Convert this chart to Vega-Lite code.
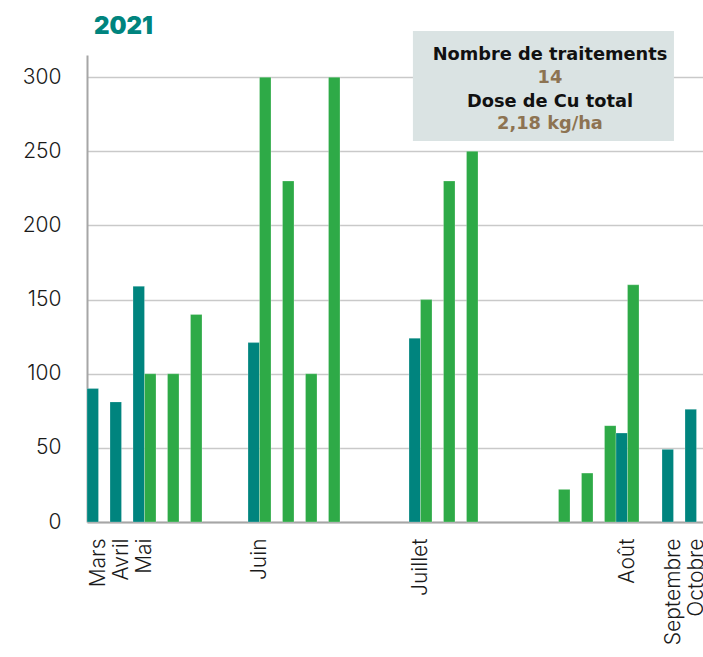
{
  "$schema": "https://vega.github.io/schema/vega-lite/v6.json",
  "width": 621,
  "height": 467,
  "padding": {"left": 22, "top": 14, "right": 0, "bottom": 0},
  "background": "white",
  "config": {"view": {"stroke": null}, "font": "Inter"},
  "title": {
    "text": "2021",
    "anchor": "start",
    "frame": "group",
    "dx": 7,
    "offset": -8,
    "font": "Inter",
    "fontSize": 24,
    "fontWeight": 900,
    "color": "#00847e"
  },
  "layer": [
    {
      "data": {
        "values": [
          {"idx": 0, "series": "a", "value": 90},
          {"idx": 1, "series": "a", "value": 81},
          {"idx": 2, "series": "a", "value": 159},
          {"idx": 2, "series": "b", "value": 100},
          {"idx": 3, "series": "b", "value": 100},
          {"idx": 4, "series": "b", "value": 140},
          {"idx": 7, "series": "a", "value": 121},
          {"idx": 7, "series": "b", "value": 300},
          {"idx": 8, "series": "b", "value": 230},
          {"idx": 9, "series": "b", "value": 100},
          {"idx": 10, "series": "b", "value": 300},
          {"idx": 14, "series": "a", "value": 124},
          {"idx": 14, "series": "b", "value": 150},
          {"idx": 15, "series": "b", "value": 230},
          {"idx": 16, "series": "b", "value": 250},
          {"idx": 20, "series": "b", "value": 22},
          {"idx": 21, "series": "b", "value": 33},
          {"idx": 22, "series": "b", "value": 65},
          {"idx": 23, "series": "a", "value": 60},
          {"idx": 23, "series": "b", "value": 160},
          {"idx": 25, "series": "a", "value": 49},
          {"idx": 26, "series": "a", "value": 76}
        ]
      },
      "mark": {"type": "bar", "stroke": "#ffffff", "strokeWidth": 0.4, "strokeOpacity": 0.6},
      "encoding": {
        "x": {
          "field": "idx",
          "type": "ordinal",
          "scale": {
            "domain": [0,1,2,3,4,5,6,7,8,9,10,11,12,13,14,15,16,17,18,19,20,21,22,23,24,25,26],
            "paddingInner": 0,
            "paddingOuter": 0
          },
          "axis": {
            "title": null,
            "labelExpr": "['Mars','Avril','Mai','','','','','Juin','','','','','','','Juillet','','','','','','','','','Août','','Septembre','Octobre'][datum.value]",
            "labelAngle": -90,
            "labelAlign": "right",
            "labelBaseline": "middle",
            "labelFontSize": 21,
            "labelFont": "Inter",
            "labelFontWeight": 300,
            "labelColor": "#1a1a1a",
            "labelPadding": 16,
            "labelOverlap": false,
            "labelBound": false,
            "ticks": false,
            "tickSize": 0,
            "domainColor": "#a6a6a6",
            "domainWidth": 2,
            "grid": false
          }
        },
        "xOffset": {
          "field": "series",
          "type": "nominal",
          "scale": {"domain": ["a", "b"], "paddingInner": 0, "paddingOuter": 0}
        },
        "y": {
          "field": "value",
          "type": "quantitative",
          "scale": {"domain": [0, 315], "nice": false},
          "axis": {
            "title": null,
            "values": [0, 50, 100, 150, 200, 250, 300],
            "labelFontSize": 21,
            "labelFont": "Inter",
            "labelFontWeight": 300,
            "labelColor": "#1a1a1a",
            "labelPadding": 26,
            "ticks": false,
            "tickSize": 0,
            "domainColor": "#a6a6a6",
            "domainWidth": 2,
            "gridColor": "#c9c9c9",
            "gridWidth": 1.5
          }
        },
        "color": {
          "field": "series",
          "type": "nominal",
          "scale": {"domain": ["a", "b"], "range": ["#00847e", "#2eaa47"]},
          "legend": null
        }
      }
    },
    {
      "data": {"values": [{}]},
      "layer": [
        {
          "mark": {"type": "rect", "color": "#dae3e3", "clip": false},
          "encoding": {
            "x": {"datum": 14.17, "type": "quantitative", "scale": {"domain": [0, 27], "nice": false, "zero": false}, "axis": null},
            "x2": {"datum": 25.52},
            "y": {"datum": 331.2, "type": "quantitative"},
            "y2": {"datum": 257}
          }
        },
        {
          "mark": {"type": "text", "text": "Nombre de traitements", "fontSize": 17.8, "fontWeight": 700, "font": "DejaVu Sans", "color": "#111111", "align": "center", "baseline": "middle"},
          "encoding": {"x": {"datum": 20.13, "type": "quantitative"}, "y": {"datum": 315, "type": "quantitative"}}
        },
        {
          "mark": {"type": "text", "text": "14", "fontSize": 17.8, "fontWeight": 700, "font": "DejaVu Sans", "color": "#8d7352", "align": "center", "baseline": "middle"},
          "encoding": {"x": {"datum": 20.13, "type": "quantitative"}, "y": {"datum": 299.5, "type": "quantitative"}}
        },
        {
          "mark": {"type": "text", "text": "Dose de Cu total", "fontSize": 17.8, "fontWeight": 700, "font": "DejaVu Sans", "color": "#111111", "align": "center", "baseline": "middle"},
          "encoding": {"x": {"datum": 20.13, "type": "quantitative"}, "y": {"datum": 283.3, "type": "quantitative"}}
        },
        {
          "mark": {"type": "text", "text": "2,18 kg/ha", "fontSize": 17.8, "fontWeight": 700, "font": "DejaVu Sans", "color": "#8d7352", "align": "center", "baseline": "middle"},
          "encoding": {"x": {"datum": 20.13, "type": "quantitative"}, "y": {"datum": 268.5, "type": "quantitative"}}
        }
      ]
    }
  ],
  "resolve": {"scale": {"x": "independent", "color": "independent"}}
}
